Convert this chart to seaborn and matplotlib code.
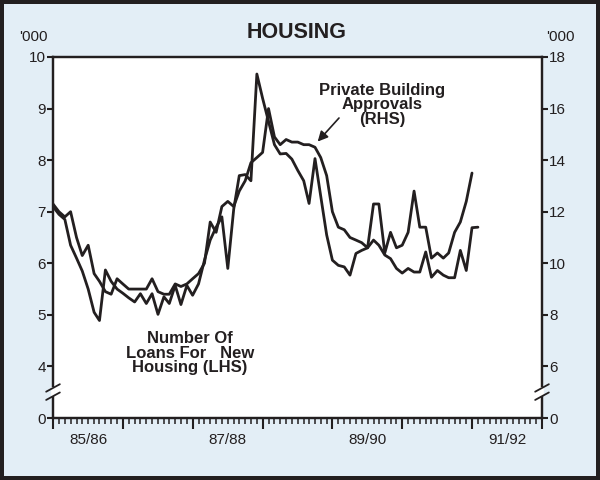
import matplotlib
matplotlib.use("Agg")
import matplotlib.pyplot as plt
import matplotlib.dates as mdates
import matplotlib.transforms as mtransforms
from matplotlib.patches import Rectangle
import pandas as pd
import seaborn as sns

# monthly figures from July 1985, '000
loans = [7.1, 6.95, 6.85, 6.35, 6.1, 5.85, 5.5, 5.05, 4.89, 5.87, 5.65, 5.5,
         5.42, 5.33, 5.25, 5.41, 5.22, 5.41, 5.01, 5.35, 5.22, 5.57, 5.2, 5.57,
         5.38, 5.6, 6.06, 6.45, 6.7, 6.9, 5.9, 7.05, 7.7, 7.72, 7.6, 9.67,
         9.2, 8.75, 8.3, 8.12, 8.13, 8.02, 7.8, 7.6, 7.16, 8.03, 7.3, 6.55,
         6.06, 5.96, 5.93, 5.77, 6.19, 6.25, 6.3, 6.45, 6.35, 6.16, 6.09, 5.9,
         5.81, 5.9, 5.83, 5.83, 6.22, 5.73, 5.86, 5.77, 5.72, 5.72, 6.25, 5.86,
         6.69, 6.7]
approvals = [12.3, 12.0, 11.8, 12.0, 11.0, 10.3, 10.7, 9.6, 9.3, 8.9, 8.8, 9.4,
             9.2, 9.0, 9.0, 9.0, 9.0, 9.4, 8.9, 8.8, 8.8, 9.2, 9.1, 9.2,
             9.4, 9.6, 10.0, 11.6, 11.2, 12.2, 12.4, 12.2, 12.8, 13.2, 13.9, 14.1,
             14.3, 16.0, 14.9, 14.6, 14.8, 14.7, 14.7, 14.6, 14.6, 14.5, 14.1, 13.4,
             12.0, 11.4, 11.3, 11.0, 10.9, 10.8, 10.6, 12.3, 12.3, 10.4, 11.2, 10.6,
             10.7, 11.2, 12.8, 11.4, 11.4, 10.2, 10.4, 10.2, 10.4, 11.2, 11.6, 12.4,
             13.5]

year_labels = ["85/86", "87/88", "89/90", "91/92"]
year_label_dates = ["1986-01-01", "1988-01-01", "1990-01-01", "1992-01-01"]
left_ticks = [3, 4, 5, 6, 7, 8, 9, 10]
left_ticklabels = ["0", "4", "5", "6", "7", "8", "9", "10"]
right_ticks = [4, 6, 8, 10, 12, 14, 16, 18]
right_ticklabels = ["0", "6", "8", "10", "12", "14", "16", "18"]

ink = "#231f20"
bg = "#e3eef6"

sns.set_theme(style="white")
plt.rcParams["font.family"] = ["Liberation Sans", "DejaVu Sans"]

loans_df = pd.DataFrame({"month": pd.date_range("1985-07-01", periods=len(loans), freq="MS"),
                         "value": loans})
appr_df = pd.DataFrame({"month": pd.date_range("1985-07-01", periods=len(approvals), freq="MS"),
                        "value": approvals})

fig = plt.figure(figsize=(6, 4.8), dpi=100, facecolor=ink)
fig.add_artist(Rectangle((4 / 600, 4 / 480), 592 / 600, 472 / 480, transform=fig.transFigure,
                         facecolor=bg, edgecolor="none", zorder=-10))
ax = fig.add_axes([53 / 600, 62 / 480, 489 / 600, 361 / 480])
ax.set_facecolor("white")
ax2 = ax.twinx()

sns.lineplot(data=loans_df, x="month", y="value", ax=ax, color=ink, linewidth=2.0)
sns.lineplot(data=appr_df, x="month", y="value", ax=ax2, color=ink, linewidth=2.0)

ax.set_xlim(pd.Timestamp("1985-07-01"), pd.Timestamp("1992-07-01"))
ax.set_ylim(3, 10)
ax2.set_ylim(4, 18)
for a in (ax, ax2):
    a.set_xlabel("")
    a.set_ylabel("")
    for sp in a.spines.values():
        sp.set_color(ink)
        sp.set_linewidth(1.6)

ax.xaxis.set_major_locator(mdates.MonthLocator(bymonth=7))
ax.xaxis.set_minor_locator(mdates.MonthLocator())
ax.xaxis.set_major_formatter(plt.NullFormatter())
ax.tick_params(axis="x", which="major", bottom=True, length=8, width=1.5, color=ink, direction="out")
ax.tick_params(axis="x", which="minor", bottom=True, length=4.5, width=1.1, color=ink, direction="out")
for lab, d in zip(year_labels, year_label_dates):
    ax.text(pd.Timestamp(d), -0.06, lab, transform=ax.get_xaxis_transform(),
            ha="center", va="center", fontsize=11, color=ink)

ax.set_yticks(left_ticks, left_ticklabels)
ax.tick_params(axis="y", left=True, length=4, width=1.5, color=ink, labelsize=11,
               labelcolor=ink, pad=1)
ax2.set_yticks(right_ticks, right_ticklabels)
ax2.tick_params(axis="y", right=True, length=4, width=1.5, color=ink, labelsize=11,
                labelcolor=ink, pad=1)

# axis breaks
brk = mtransforms.blended_transform_factory(ax2.transAxes, ax.transData)
for xs in (0.0, 1.0):
    ax2.plot([xs, xs], [3.43, 3.6], transform=brk, color="white", lw=2.8,
             clip_on=False, zorder=5, solid_capstyle="butt")
    for y0 in (3.35, 3.51):
        ax2.plot([xs - 0.014, xs + 0.014], [y0, y0 + 0.145], transform=brk, color=ink,
                 lw=1.3, clip_on=False, zorder=6)

fig.text(297 / 600, 1 - 32 / 480, "HOUSING", ha="center", va="center",
         fontsize=15.5, fontweight="bold", color=ink)
fig.text(33 / 600, 1 - 37 / 480, "'000", ha="center", va="center", fontsize=11, color=ink)
fig.text(560 / 600, 1 - 37 / 480, "'000", ha="center", va="center", fontsize=11, color=ink)

fig.text(382 / 600, 1 - 105 / 480, "Private Building\nApprovals\n(RHS)", ha="center",
         va="center", fontsize=12, fontweight="bold", color=ink, linespacing=0.95)
ax.annotate("", xy=(pd.Timestamp("1989-04-15"), 8.36), xycoords="data",
            xytext=(339, 480 - 118), textcoords="figure pixels",
            arrowprops=dict(arrowstyle="-|>,head_length=0.5,head_width=0.25",
                            color=ink, lw=1.2, shrinkA=0, shrinkB=0))
fig.text(190 / 600, 1 - 353 / 480, "Number Of\nLoans For   New\nHousing (LHS)", ha="center",
         va="center", fontsize=12, fontweight="bold", color=ink, linespacing=0.95)

fig.savefig("out.png", dpi=100, facecolor=fig.get_facecolor())
